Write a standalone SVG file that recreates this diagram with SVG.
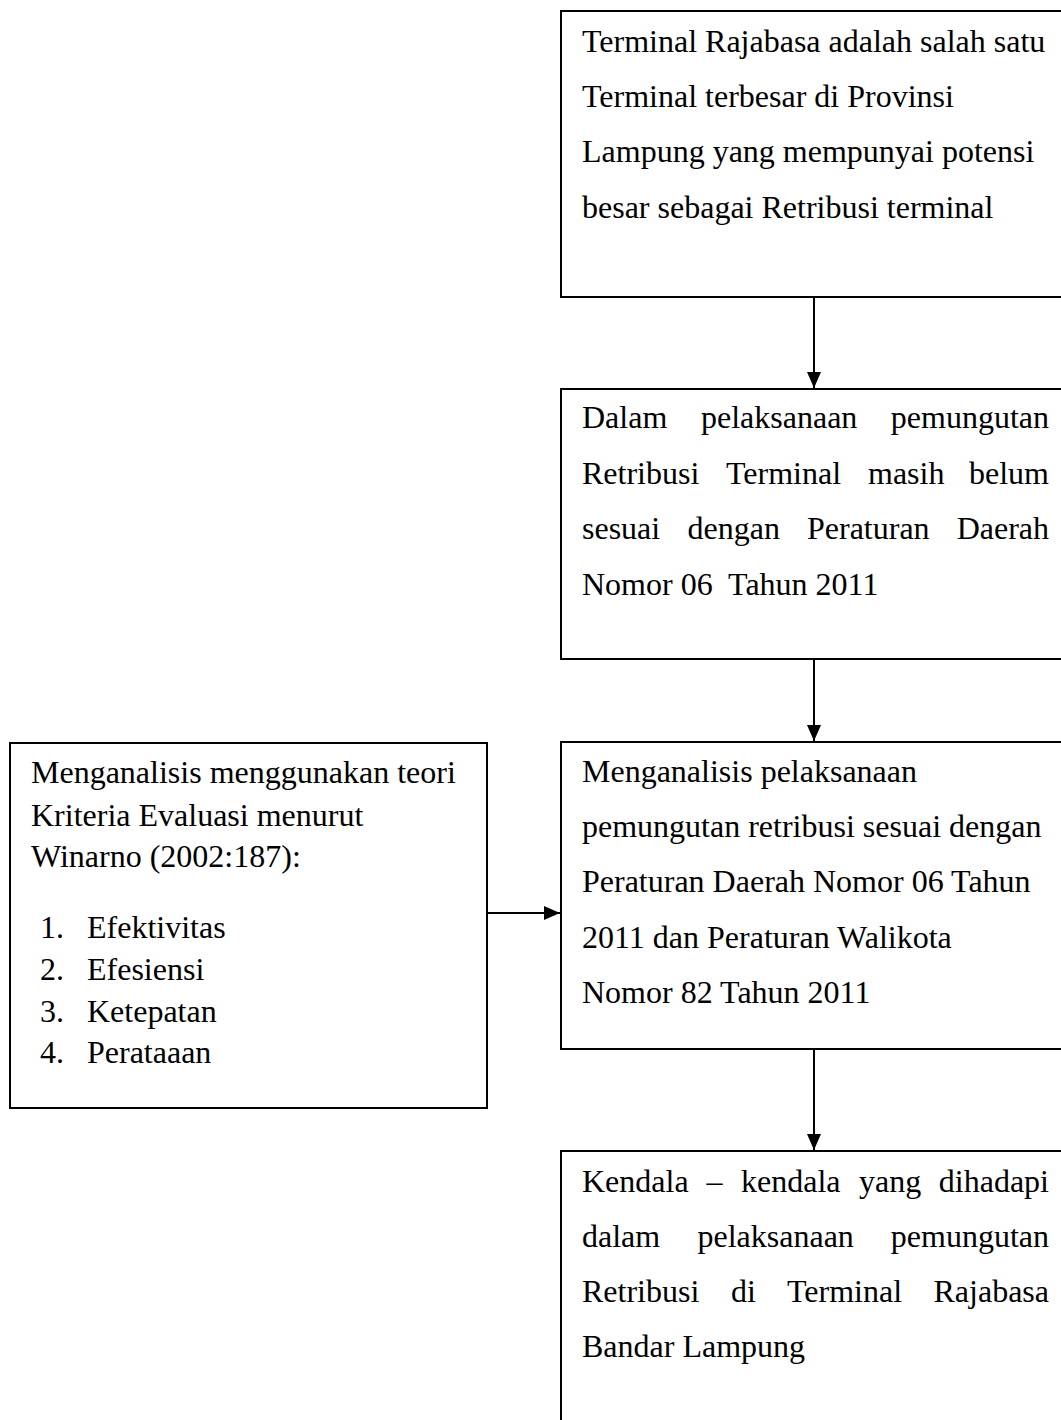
<svg xmlns="http://www.w3.org/2000/svg" width="1061" height="1420" viewBox="0 0 1061 1420">
<style>
.box{fill:#fff;stroke:#000;stroke-width:2}
.t{font-family:"Liberation Serif","Times New Roman",serif;font-size:32px;fill:#000}
.e{text-anchor:end}
.conn{stroke:#000;stroke-width:2;fill:none}
</style>
<defs>
<marker id="ah" markerUnits="userSpaceOnUse" markerWidth="16" markerHeight="14" refX="16" refY="7" orient="auto">
<path d="M0,0 L16,7 L0,14 z" fill="#000"/>
</marker>
</defs>
<rect x="0" y="0" width="1061" height="1420" fill="#fff"/>
<g id="connectors">
<line class="conn" x1="814" y1="297" x2="814" y2="388" marker-end="url(#ah)"/>
<line class="conn" x1="814" y1="657" x2="814" y2="741" marker-end="url(#ah)"/>
<line class="conn" x1="814" y1="1049" x2="814" y2="1150" marker-end="url(#ah)"/>
<line class="conn" x1="487" y1="913" x2="560" y2="913" marker-end="url(#ah)"/>
</g>
<g id="node1">
<rect class="box" x="561" y="11" width="504" height="286"/>
<text class="t" x="582" y="52">Terminal Rajabasa adalah salah satu</text>
<text class="t" x="582" y="107">Terminal terbesar di Provinsi</text>
<text class="t" x="582" y="162">Lampung yang mempunyai potensi</text>
<text class="t" x="582" y="218">besar sebagai Retribusi terminal</text>
</g>
<g id="node2">
<rect class="box" x="561" y="389" width="504" height="270"/>
<text class="t" y="428"><tspan x="582">Dalam</tspan><tspan x="701">pelaksanaan</tspan></text>
<text class="t e" x="1049" y="428">pemungutan</text>
<text class="t" y="484"><tspan x="582">Retribusi</tspan><tspan x="726">Terminal</tspan><tspan x="868">masih</tspan></text>
<text class="t e" x="1049" y="484">belum</text>
<text class="t" y="539"><tspan x="582">sesuai</tspan><tspan x="687.5">dengan</tspan><tspan x="807">Peraturan</tspan></text>
<text class="t e" x="1049" y="539">Daerah</text>
<text class="t" x="582" y="595" xml:space="preserve">Nomor 06  Tahun 2011</text>
</g>
<g id="node3">
<rect class="box" x="561" y="742" width="504" height="307"/>
<text class="t" x="582" y="782">Menganalisis pelaksanaan</text>
<text class="t" x="582" y="837">pemungutan retribusi sesuai dengan</text>
<text class="t" x="582" y="892">Peraturan Daerah Nomor 06 Tahun</text>
<text class="t" x="582" y="948">2011 dan Peraturan Walikota</text>
<text class="t" x="582" y="1003">Nomor 82 Tahun 2011</text>
</g>
<g id="node4">
<rect class="box" x="561" y="1151" width="504" height="290"/>
<text class="t" y="1192"><tspan x="582">Kendala</tspan><tspan x="706.5">–</tspan><tspan x="741">kendala</tspan><tspan x="859">yang</tspan></text>
<text class="t e" x="1049" y="1192">dihadapi</text>
<text class="t" y="1247"><tspan x="582">dalam</tspan><tspan x="697.5">pelaksanaan</tspan></text>
<text class="t e" x="1049" y="1247">pemungutan</text>
<text class="t" y="1302"><tspan x="582">Retribusi</tspan><tspan x="731">di</tspan><tspan x="787">Terminal</tspan></text>
<text class="t e" x="1049" y="1302">Rajabasa</text>
<text class="t" x="582" y="1357">Bandar Lampung</text>
</g>
<g id="node5">
<rect class="box" x="10" y="743" width="477" height="365"/>
<text class="t" x="31" y="783">Menganalisis menggunakan teori</text>
<text class="t" x="31" y="826">Kriteria Evaluasi menurut</text>
<text class="t" x="31" y="867">Winarno (2002:187):</text>
<text class="t" x="40" y="938">1.</text><text class="t" x="87" y="938">Efektivitas</text>
<text class="t" x="40" y="980">2.</text><text class="t" x="87" y="980">Efesiensi</text>
<text class="t" x="40" y="1022">3.</text><text class="t" x="87" y="1022">Ketepatan</text>
<text class="t" x="40" y="1063">4.</text><text class="t" x="87" y="1063">Perataaan</text>
</g>
</svg>
